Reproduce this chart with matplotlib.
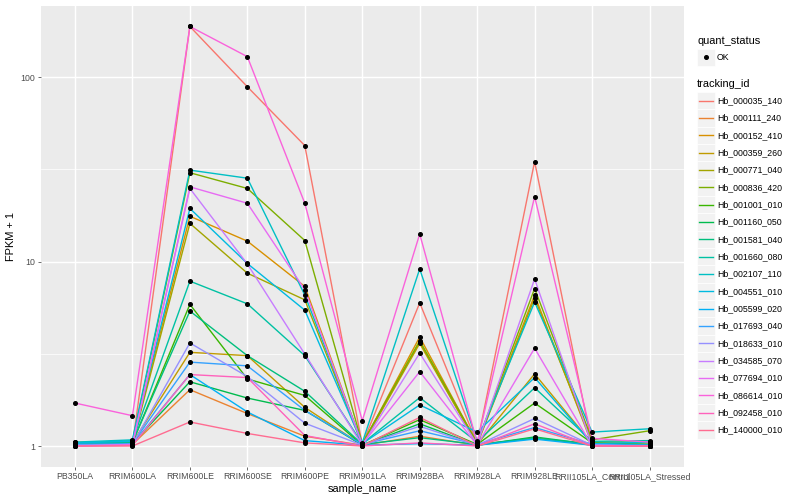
import matplotlib
matplotlib.use('Agg')
import matplotlib.pyplot as plt
import numpy as np
from matplotlib.patches import Rectangle
from matplotlib.lines import Line2D

plt.rcParams['font.family'] = ['Liberation Sans', 'DejaVu Sans']

samples = ['PB350LA', 'RRIM600LA', 'RRIM600LE', 'RRIM600SE', 'RRIM600PE', 'RRIM901LA',
           'RRIM928BA', 'RRIM928LA', 'RRIM928LE', 'RRII105LA_Control', 'RRII105LA_Stressed']

tracking_ids = ['Hb_000035_140', 'Hb_000111_240', 'Hb_000152_410', 'Hb_000359_260',
                'Hb_000771_040', 'Hb_000836_420', 'Hb_001001_010', 'Hb_001160_050',
                'Hb_001581_040', 'Hb_001660_080', 'Hb_002107_110', 'Hb_004551_010',
                'Hb_005599_020', 'Hb_017693_040', 'Hb_018633_010', 'Hb_034585_070',
                'Hb_077694_010', 'Hb_086614_010', 'Hb_092458_010', 'Hb_140000_010']

colors = ['#F8766D', '#EA8331', '#D89000', '#C09B00', '#A3A500', '#7CAE00', '#39B600',
          '#00BB4E', '#00BF7D', '#00C1A3', '#00BFC4', '#00BAE0', '#00B0F6', '#35A2FF',
          '#9590FF', '#C77CFF', '#E76BF3', '#FA62DB', '#FF62BC', '#FF6C91']

# FPKM + 1 per sample (order of `samples`)
hb_000035_140 = [1.02, 1.01, 188.0, 88.6, 42.5, 1.02, 5.97, 1.03, 34.8, 1.01, 1.00]
hb_000111_240 = [1.03, 1.02, 2.02, 1.50, 1.13, 1.01, 1.13, 1.01, 1.11, 1.01, 1.00]
hb_000152_410 = [1.04, 1.05, 17.6, 12.9, 7.33, 1.02, 3.90, 1.03, 6.58, 1.02, 1.02]
hb_000359_260 = [1.05, 1.04, 3.22, 3.09, 1.62, 1.01, 3.60, 1.02, 2.46, 1.03, 1.02]
hb_000771_040 = [1.04, 1.03, 16.1, 8.65, 6.20, 1.02, 3.68, 1.02, 6.33, 1.05, 1.05]
hb_000836_420 = [1.03, 1.06, 30.3, 24.9, 13.0, 1.03, 3.72, 1.04, 7.14, 1.08, 1.21]
hb_001001_010 = [1.02, 1.04, 5.86, 2.31, 1.88, 1.01, 1.39, 1.02, 1.71, 1.04, 1.02]
hb_001160_050 = [1.01, 1.03, 2.23, 1.82, 1.56, 1.01, 1.32, 1.01, 1.12, 1.02, 1.01]
hb_001581_040 = [1.02, 1.05, 5.39, 3.09, 1.98, 1.02, 1.11, 1.02, 1.10, 1.03, 1.02]
hb_001660_080 = [1.03, 1.07, 7.83, 5.90, 3.09, 1.03, 1.83, 1.05, 2.07, 1.06, 1.07]
hb_002107_110 = [1.05, 1.08, 31.3, 28.3, 6.58, 1.04, 9.12, 1.06, 6.03, 1.19, 1.24]
hb_004551_010 = [1.04, 1.06, 19.4, 9.76, 5.45, 1.03, 1.67, 1.19, 2.35, 1.03, 1.05]
hb_005599_020 = [1.01, 1.02, 2.44, 1.53, 1.07, 1.01, 1.03, 1.01, 1.09, 1.01, 1.01]
hb_017693_040 = [1.02, 1.03, 2.85, 2.72, 1.56, 1.02, 1.21, 1.02, 1.26, 1.02, 1.01]
hb_018633_010 = [1.01, 1.02, 3.62, 2.38, 1.33, 1.01, 1.28, 1.01, 1.41, 1.01, 1.00]
hb_034585_070 = [1.00, 1.02, 24.9, 9.70, 3.15, 1.01, 3.19, 1.02, 8.05, 1.01, 1.00]
hb_077694_010 = [1.00, 1.01, 25.4, 20.7, 7.03, 1.02, 2.53, 1.01, 3.39, 1.00, 1.00]
hb_086614_010 = [1.71, 1.46, 188.0, 129.0, 20.7, 1.37, 14.1, 1.04, 22.5, 1.10, 1.05]
hb_092458_010 = [1.00, 1.01, 2.44, 2.35, 1.14, 1.00, 1.04, 1.00, 1.32, 1.00, 1.00]
hb_140000_010 = [1.00, 1.00, 1.35, 1.17, 1.04, 1.00, 1.43, 1.00, 1.24, 1.00, 1.00]

series = [hb_000035_140, hb_000111_240, hb_000152_410, hb_000359_260, hb_000771_040,
          hb_000836_420, hb_001001_010, hb_001160_050, hb_001581_040, hb_001660_080,
          hb_002107_110, hb_004551_010, hb_005599_020, hb_017693_040, hb_018633_010,
          hb_034585_070, hb_077694_010, hb_086614_010, hb_092458_010, hb_140000_010]

W, H = 800, 500
fig = plt.figure(figsize=(8, 5), dpi=100)
pl, pr, pt, pb = 40.5, 684.0, 5.5, 467.0
ax = fig.add_axes([pl / W, 1 - pb / H, (pr - pl) / W, (pb - pt) / H])
ax.set_facecolor('#EBEBEB')

x = np.arange(len(samples))
for vals, col in zip(series, colors):
    ax.plot(x, vals, color=col, lw=1.0, zorder=3, solid_capstyle='butt')
for vals in series:
    ax.plot(x, vals, linestyle='none', marker='o', color='black', ms=2.6, zorder=4)

ax.set_yscale('log')
ax.set_yticks([1, 10, 100])
ax.set_yticklabels(['1', '10', '100'])
ax.set_yticks([10 ** 0.5, 10 ** 1.5], minor=True)
ax.set_yticklabels([], minor=True)
ax.set_xticks(x)
ax.set_xticklabels(samples)

allv = np.log10(np.concatenate([np.array(s) for s in series]))
lmin, lmax = allv.min(), allv.max()
rng = lmax - lmin
ax.set_ylim(10 ** (lmin - 0.05 * rng), 10 ** (lmax + 0.05 * rng))
ax.set_xlim(-0.6, len(samples) - 1 + 0.6)

ax.grid(which='major', color='white', lw=1.02)
ax.grid(which='minor', axis='y', color='white', lw=0.51)
ax.set_axisbelow(True)
for s in ax.spines.values():
    s.set_visible(False)
ax.tick_params(which='major', length=1.98, width=0.5, color='#333333',
               labelcolor='#4D4D4D', labelsize=6.34, pad=1.6)
ax.tick_params(which='minor', length=0)

fig.text(((pl + pr) / 2) / W, 1 - 489 / H, 'sample_name', ha='center', va='center',
         fontsize=7.92, color='black')
fig.text(11 / W, 1 - ((pt + pb) / 2) / H, 'FPKM + 1', ha='center', va='center',
         rotation=90, fontsize=7.92, color='black')

# Legend
lax = fig.add_axes([0, 0, 1, 1], zorder=5)
lax.set_xlim(0, W)
lax.set_ylim(H, 0)
lax.axis('off')
lax.patch.set_alpha(0)

kx, kw = 697.3, 17.28
lax.text(697, 40.7, 'quant_status', fontsize=7.92, va='center', ha='left')
lax.add_patch(Rectangle((kx, 57.3 - kw / 2), kw, kw, facecolor='#F2F2F2', edgecolor='white', lw=0.5))
lax.plot([kx + kw / 2], [57.3], marker='o', color='black', ms=2.6)
lax.text(717, 57.3, 'OK', fontsize=6.34, va='center', ha='left')

lax.text(697, 84.3, 'tracking_id', fontsize=7.92, va='center', ha='left')
for i, (tid, col) in enumerate(zip(tracking_ids, colors)):
    yc = 100.7 + 17.33 * i
    lax.add_patch(Rectangle((kx, yc - kw / 2), kw, kw, facecolor='#F2F2F2', edgecolor='white', lw=0.5))
    lax.add_line(Line2D([kx + 1.5, kx + kw - 1.5], [yc, yc], color=col, lw=1.0))
    lax.text(717, yc, tid, fontsize=6.34, va='center', ha='left')

fig.savefig('out.png', dpi=100)
